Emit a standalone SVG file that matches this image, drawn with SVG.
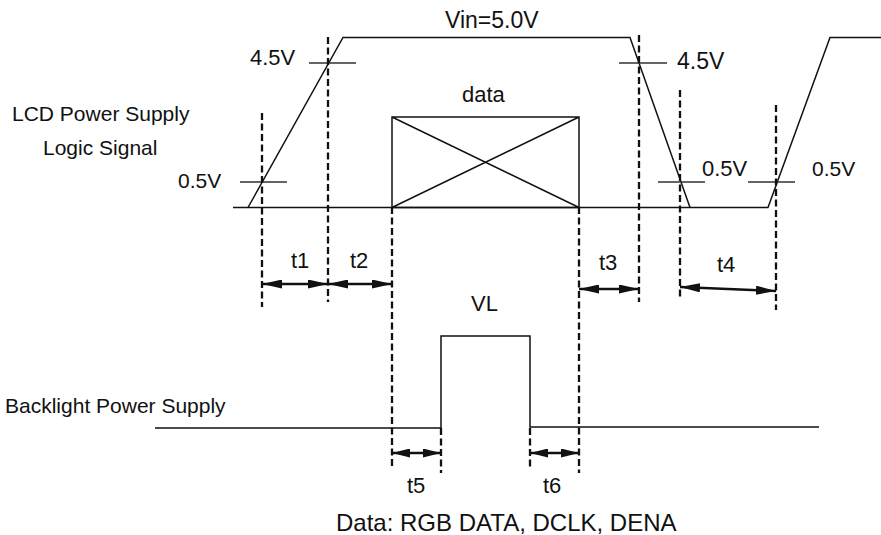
<svg xmlns="http://www.w3.org/2000/svg" width="881" height="535" viewBox="0 0 881 535">
<style>
text{font-family:"Liberation Sans",Arial,sans-serif;fill:#111;}
.w{fill:none;stroke:#111;stroke-width:1.5;}
.tk{fill:none;stroke:#333;stroke-width:1.5;}
.d{fill:none;stroke:#111;stroke-width:2.3;stroke-dasharray:7,3.5;}
.a{fill:none;stroke:#111;stroke-width:2.3;marker-start:url(#ah);marker-end:url(#ah);}
.as{fill:none;stroke:#111;stroke-width:2.3;marker-start:url(#ahs);marker-end:url(#ahs);}
</style>
<defs>
<marker id="ah" markerUnits="userSpaceOnUse" markerWidth="20" markerHeight="9" refX="20" refY="4.5" orient="auto-start-reverse"><path d="M0,0 L20,4.5 L0,9 z" fill="#111"/></marker>
<marker id="ahs" markerUnits="userSpaceOnUse" markerWidth="18" markerHeight="9" refX="18" refY="4.5" orient="auto-start-reverse"><path d="M0,0 L18,4.5 L0,9 z" fill="#111"/></marker>
</defs>
<rect width="881" height="535" fill="#fff"/>

<g id="lcd-waveform">
<path class="w" d="M233,207.5 H768 L830,37.5 H881"/>
<path class="w" d="M248,207.5 L343,37.5 H630 L690,207.5"/>
</g>
<g id="data-box">
<path class="w" d="M392,117 H579 V207.5 H392 Z M392,117 L579,207.5 M392,207.5 L579,117"/>
<text x="462" y="102" font-size="22">data</text>
</g>
<g id="backlight-waveform">
<path class="w" d="M155,428 H441 V336 H530 V427 H819"/>
<text x="471" y="311" font-size="22">VL</text>
</g>
<g id="thresholds">
<path class="tk" d="M240,182 H287 M309,63 H356 M619,63 H667 M658,182 H705 M748,182 H795"/>
</g>
<g id="guides">
<path class="d" d="M262,113 V307 M328,37 V302 M392,207 V467 M579,207 V473 M639,35 V302 M680,90 V297 M776,105 V310 M441,428 V473 M530,428 V470"/>
</g>
<g id="connectors">
<path id="t1" class="a" d="M262,284 H328"/>
<path id="t2" class="a" d="M328,284 H392"/>
<path id="t3" class="a" d="M579,289 H639"/>
<path id="t4" class="a" d="M680,287 L776,291"/>
<path id="t5" class="as" d="M392,453 H441"/>
<path id="t6" class="as" d="M530,453 H579"/>
</g>
<g id="labels">
<text x="445" y="28" font-size="23">Vin=5.0V</text>
<text x="250" y="65" font-size="22">4.5V</text>
<text x="677" y="69" font-size="23">4.5V</text>
<text x="178" y="188" font-size="21">0.5V</text>
<text x="702" y="176" font-size="22">0.5V</text>
<text x="812" y="176" font-size="21">0.5V</text>
<text x="12" y="121" font-size="21">LCD Power Supply</text>
<text x="43" y="155" font-size="21">Logic Signal</text>
<text x="5" y="413" font-size="21">Backlight Power Supply</text>
<text x="291" y="268" font-size="22">t1</text>
<text x="350" y="268" font-size="22">t2</text>
<text x="599" y="270" font-size="22">t3</text>
<text x="717" y="272" font-size="22">t4</text>
<text x="407" y="493" font-size="22">t5</text>
<text x="543" y="493" font-size="22">t6</text>
<text x="336" y="531" font-size="24">Data: RGB DATA, DCLK, DENA</text>
</g>
</svg>
